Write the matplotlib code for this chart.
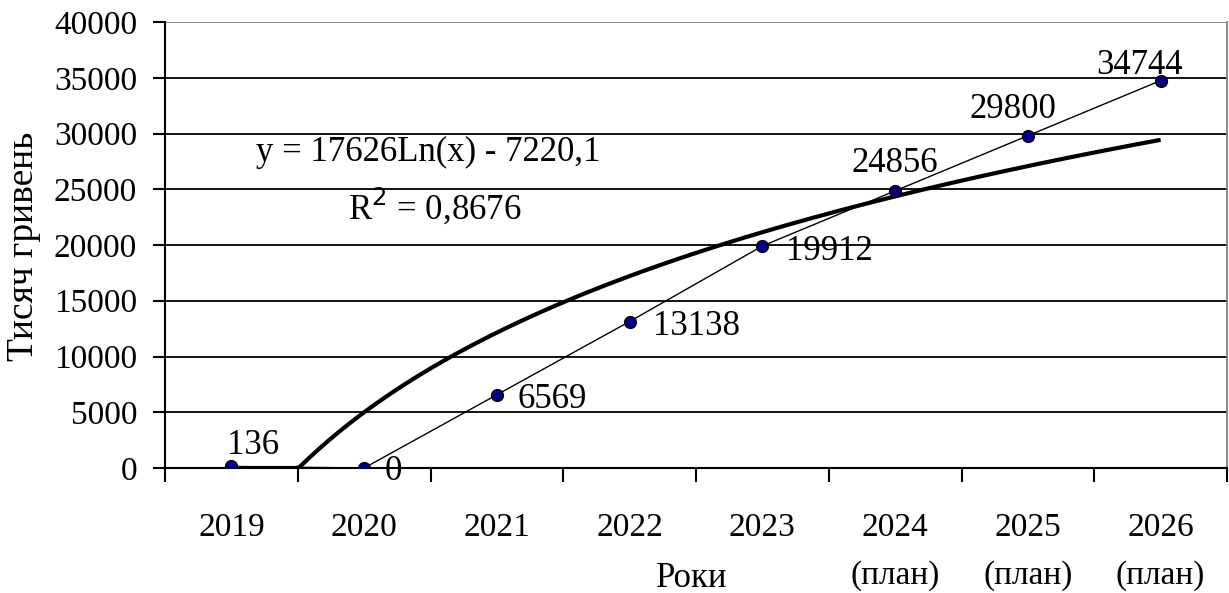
import numpy as np
import matplotlib.pyplot as plt

plt.rcParams['font.family'] = ['Liberation Serif', 'DejaVu Serif']

years = ['2019', '2020', '2021', '2022', '2023',
         '2024\n(план)', '2025\n(план)', '2026\n(план)']
values = [136, 0, 6569, 13138, 19912, 24856, 29800, 34744]
# label offsets in pixels (dx, dy) and alignment
lbl_off = [(22, 21, 'center'), (21, -4, 'left'), (21, -5, 'left'), (23, -5, 'left'),
           (24, -6, 'left'), (0, 27, 'center'), (-15, 26, 'center'), (-21, 15, 'center')]

x = np.arange(1, len(values) + 1)
y = np.array(values, dtype=float)

# logarithmic trendline y = a*ln(x) + b
a, b = np.polyfit(np.log(x), y, 1)
xt = np.linspace(1, 8, 300)
yt = np.clip(a * np.log(xt) + b, 0, None)

fig = plt.figure(figsize=(12.29, 5.93), dpi=100)
ax = fig.add_axes([165 / 1229, 1 - 468 / 593, (1227 - 165) / 1229, (468 - 22) / 593])

for v in range(5000, 40001, 5000):
    ax.axhline(v, color='black' if v < 40000 else '#808080', lw=1.3, zorder=1)

ax.plot(xt, yt, color='black', lw=3, zorder=2, solid_capstyle='butt')
ax.plot(x, y, color='black', lw=1, zorder=3)
ax.plot(x, y, 'o', ms=8.5, mfc='#000080', mec='black', mew=1, zorder=4)

for xi, yi, (dx, dy, ha) in zip(x, values, lbl_off):
    ax.annotate(str(yi), (xi, yi), xytext=(dx, dy), textcoords='offset pixels',
                ha=ha, va='center', fontsize=25, zorder=5)

ax.text(2.48, 28300, 'y = 17626Ln(x) - 7220,1', ha='center', va='center', fontsize=25)
ax.text(2.53, 23480, 'R$^2$ = 0,8676', ha='center', va='center', fontsize=25)

ax.set_xlim(0.5, 8.5)
ax.set_ylim(0, 40000)
ax.set_yticks(range(0, 40001, 5000))
ax.set_xticks(x)
ax.set_xticklabels(years, fontsize=24, linespacing=1.75)
ax.set_xticks(np.arange(0.5, 8.6, 1), minor=True)
ax.tick_params(axis='x', which='major', length=0, pad=32)
ax.tick_params(axis='x', which='minor', length=10, width=1.5, direction='out')
ax.tick_params(axis='y', length=9, width=1.5, direction='out', pad=11, labelsize=24)

for s in ['left', 'bottom']:
    ax.spines[s].set_linewidth(1.5)
ax.spines['top'].set_visible(False)
ax.spines['right'].set_color('#808080')
ax.spines['right'].set_linewidth(1.3)

fig.text(24 / 1229, 1 - 246 / 593, 'Тисяч гривень', rotation=90,
         ha='center', va='center', fontsize=27)
fig.text(692 / 1229, 1 - 587 / 593, 'Роки', ha='center', va='baseline', fontsize=25)

fig.savefig('out.png', dpi=100)
